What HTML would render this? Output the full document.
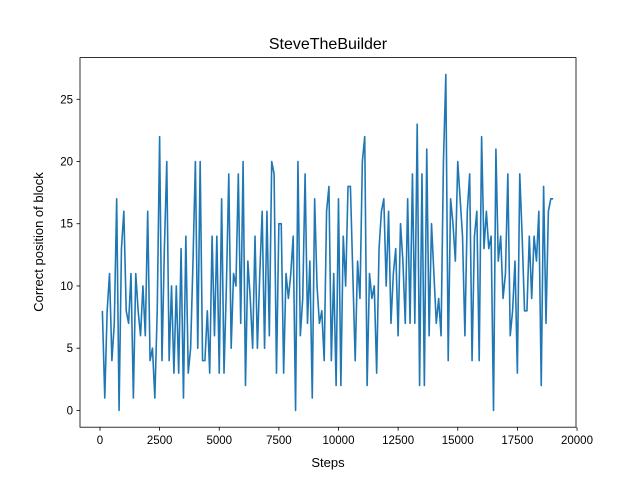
<!DOCTYPE html>
<html><head><meta charset="utf-8"><style>
body{margin:0;background:#fff;}
svg{display:block;font-family:"Liberation Sans","DejaVu Sans",sans-serif;}
</style></head><body>
<svg id="chart" width="640" height="480" viewBox="0 0 640 480" xmlns="http://www.w3.org/2000/svg">
<rect x="0" y="0" width="640" height="480" fill="#fff"/>
<text x="328" y="49" font-size="16" text-anchor="middle">SteveTheBuilder</text>
<text x="328" y="467" font-size="13" text-anchor="middle">Steps</text>
<text transform="translate(43,242) rotate(-90)" font-size="13" text-anchor="middle">Correct position of block</text>
<g id="ticks"></g>
<polyline id="line" fill="none" stroke="#1f77b4" stroke-width="1.6" stroke-linejoin="round"/>
<rect x="80" y="57.6" width="496" height="369.6" fill="none" stroke="#000" stroke-width="0.8"/>
</svg>
<script>
const stepStart = 100;
const stepSize = 100;
const values = [8,1,8,11,4,7,17,0,13,16,
8,7,11,1,11,8,6,10,6,16,
4,5,1,8,22,4,13,20,4,10,
3,10,3,13,1,14,3,5,12,20,
5,20,4,4,8,3,14,6,14,3,
17,3,10,19,5,11,10,19,7,20,
2,12,9,5,14,5,11,16,5,16,
6,20,19,3,15,15,3,11,9,11,
14,0,20,6,9,19,7,12,1,17,
10,7,8,4,16,18,4,11,2,17,
2,14,10,18,18,11,4,12,9,20,
22,2,11,9,10,3,13,16,17,10,
16,7,11,13,6,15,12,7,17,7,
19,7,23,2,19,2,21,6,15,11,
7,9,6,20,27,4,17,15,12,20,
17,14,6,16,19,4,14,16,4,22,
13,16,13,14,0,21,12,14,9,11,
19,6,8,12,3,19,14,8,8,14,
9,14,12,16,2,18,7,16,17,17];
const xTicks = [0,2500,5000,7500,10000,12500,15000,17500,20000];
const yTicks = [0,5,10,15,20,25];
const X0=80,X1=576,Y0=427.2,Y1=57.6;
const xMin=-838,xMax=19958,yMin=-1.35,yMax=28.35;
const sx=v=>X0+(v-xMin)/(xMax-xMin)*(X1-X0);
const sy=v=>Y0-(v-yMin)/(yMax-yMin)*(Y0-Y1);
const NS="http://www.w3.org/2000/svg";
const pts=values.map((v,i)=>sx(stepStart+i*stepSize).toFixed(2)+","+sy(v).toFixed(2)).join(" ");
document.getElementById("line").setAttribute("points",pts);
const g=document.getElementById("ticks");
xTicks.forEach(t=>{
 const l=document.createElementNS(NS,"line");
 l.setAttribute("x1",sx(t));l.setAttribute("x2",sx(t));l.setAttribute("y1",Y0);l.setAttribute("y2",Y0+3.5);
 l.setAttribute("stroke","#000");l.setAttribute("stroke-width","0.8");
 
 
 g.appendChild(l);
 const tx=document.createElementNS(NS,"text");
 tx.setAttribute("x",sx(t));tx.setAttribute("y",Y0+17);tx.setAttribute("font-size","11.5");tx.setAttribute("text-anchor","middle");
 tx.textContent=t;
 
 
 g.appendChild(tx);
});
yTicks.forEach(t=>{
 const l=document.createElementNS(NS,"line");
 l.setAttribute("x1",X0-3.5);l.setAttribute("x2",X0);l.setAttribute("y1",sy(t));l.setAttribute("y2",sy(t));
 l.setAttribute("stroke","#000");l.setAttribute("stroke-width","0.8");
 
 
 g.appendChild(l);
 const tx=document.createElementNS(NS,"text");
 tx.setAttribute("x",X0-7);tx.setAttribute("y",sy(t)+4);tx.setAttribute("font-size","11.5");tx.setAttribute("text-anchor","end");
 tx.textContent=t;
 
 
 g.appendChild(tx);
});
</script>
</body></html>
